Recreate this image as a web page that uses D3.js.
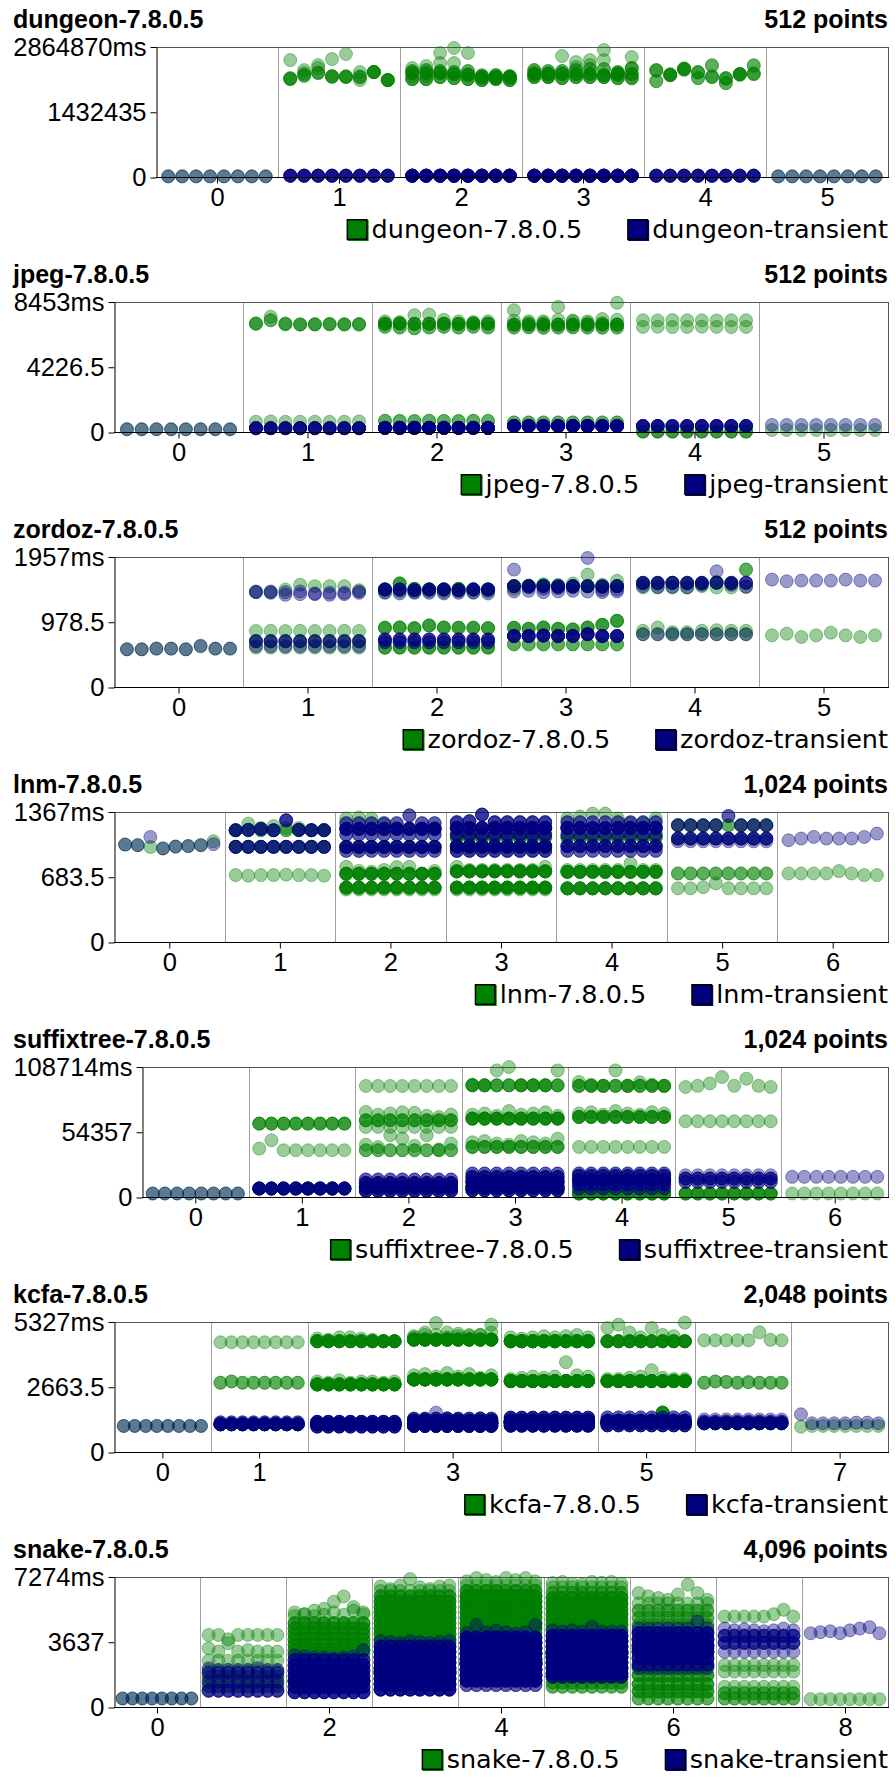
<!DOCTYPE html>
<html><head><meta charset="utf-8">
<script src="https://cdn.jsdelivr.net/npm/d3@7"></script>
<style>body{margin:0;background:#fff}svg{display:block}</style>
</head><body>
<script>
// ---- data ----
// each column: list of rows; row = [count, v0..v7] (one value per run slot) or [count, v] (same value in all 8 slots)
const benchNames = ["dungeon","jpeg","zordoz","lnm","suffixtree","kcfa","snake"];
const yMaxes = [2864870, 8453, 1957, 1367, 108714, 5327, 7274];
const pointTotals = [512, 512, 512, 1024, 1024, 2048, 4096];
const xTickLabels = [[0,1,2,3,4,5],[0,1,2,3,4,5],[0,1,2,3,4,5],[0,1,2,3,4,5,6],[0,1,2,3,4,5,6],[0,1,3,5,7],[0,2,4,6,8]];
const seriesSuffixes = ["7.8.0.5", "transient"];
const seriesColors = ["green", "navy"];

const dungeonOld = [
 [[1,25e3]],
 [[1,2578e3,2358e3,2468e3,2600e3,2711e3,2314e3,2314e3,2138e3],
  [1,2160e3,2226e3,2292e3,2226e3,2226e3,2138e3,2314e3,2138e3],
  [1,2160e3,2292e3,2402e3,2204e3,2204e3,2226e3,2314e3,2138e3],
  [2,2180e3,2250e3,2300e3,2220e3,2210e3,2200e3,2314e3,2138e3]],
 [[3,2292e3,2292e3,2292e3,2270e3,2248e3,2204e3,2204e3,2204e3],
  [3,2160e3,2160e3,2204e3,2182e3,2160e3,2138e3,2160e3,2138e3],
  [2,2336e3,2358e3,2336e3,2314e3,2336e3,2226e3,2248e3,2226e3],
  [1,2402e3,2446e3,2733e3,2843e3,2733e3,2248e3,2226e3,2204e3],
  [1,2226e3,2226e3,2512e3,2512e3,2270e3,2182e3,2182e3,2182e3]],
 [[3,2270e3,2270e3,2270e3,2270e3,2270e3,2248e3,2270e3,2270e3],
  [3,2204e3,2204e3,2182e3,2204e3,2204e3,2204e3,2182e3,2182e3],
  [2,2358e3,2336e3,2336e3,2358e3,2380e3,2380e3,2314e3,2402e3],
  [1,2314e3,2292e3,2666e3,2534e3,2578e3,2799e3,2292e3,2644e3],
  [1,2248e3,2226e3,2292e3,2424e3,2468e3,2578e3,2248e3,2402e3]],
 [[1,2358e3,2248e3,2380e3,2314e3,2468e3,2182e3,2270e3,2468e3],
  [1,2116e3,2248e3,2380e3,2182e3,2204e3,2072e3,2270e3,2270e3],
  [1,2358e3,2270e3,2380e3,2314e3,2204e3,2182e3,2270e3,2270e3],
  [1,2116e3,2248e3,2360e3,2182e3,2226e3,2072e3,2270e3,2290e3],
  [1,2340e3,2248e3,2400e3,2300e3,2450e3,2160e3,2250e3,2450e3]],
 [[1,25e3]]
];
const dungeonNew = [[[1,25e3]],[[5,40e3]],[[10,40e3]],[[10,40e3]],[[5,40e3]],[[1,25e3]]];

const jpegOld = [
 [[1,210]],
 [[2,7060,7270,7050,7000,7010,7030,7000,7020],
  [1,7040,7500,7000,7000,6990,7000,7010,6980],
  [1,700,720,690,700,700,690,700,720],
  [1,280]],
 [[4,7050,7060,7040,7050,7050,7040,7060,7050],
  [2,6850,6800,6750,6800,6850,6800,6850,6800],
  [1,7200,7150,7600,7640,7300,7200,7150,7200],
  [2,760,750,740,760,750,740,760,750],
  [1,300]],
 [[4,6990],
  [2,6800,6820,6790,6800,6810,6800,6790,6800],
  [1,7920,7100,7100,8140,7200,7100,7100,8400],
  [1,7250,7200,7200,7300,7250,7200,7350,7300],
  [2,650]],
 [[1,7270,7260,7280,7270,7270,7260,7270,7270],
  [1,6840,6850,6830,6840,6850,6840,6830,6840],
  [3,60]],
 [[1,163]]
];
const jpegNew = [[[1,210]],[[5,280]],[[10,300]],[[10,420]],[[5,420]],[[1,490]]];

const zordozOld = [
 [[1,573,573,583,583,573,615,583,583]],
 [[1,1430,1430,1470,1540,1520,1520,1520,1460],
  [1,847,850,847,850,847,847,850,847],
  [2,690],
  [1,598]],
 [[3,1470,1560,1480,1470,1470,1480,1470,1470],
  [1,1430,1440,1430,1440,1430,1440,1430,1440],
  [3,896,900,890,930,900,896,896,890],
  [3,598]],
 [[4,1520,1520,1530,1510,1520,1520,1510,1520],
  [1,1480,1530,1550,1540,1560,1693,1540,1600],
  [3,896,880,900,880,870,900,940,1000],
  [2,647]],
 [[2,1560,1560,1570,1560,1560,1580,1560,1768],
  [1,1500,1510,1500,1500,1520,1500,1500,1510],
  [1,850,900,830,830,850,860,850,850],
  [1,797]],
 [[1,782,807,757,782,822,782,757,782]]
];
const zordozNew = [
 [[1,573,573,583,583,573,627,583,583]],
 [[1,1440,1440,1430,1440,1410,1420,1420,1440],
  [1,1430,1420,1390,1400,1400,1390,1400,1420],
  [2,697],[1,620]],
 [[4,1470,1470,1460,1470,1470,1460,1470,1470],
  [1,1420,1410,1420,1420,1410,1420,1420,1410],
  [3,720],[2,680]],
 [[3,1520],[1,1768,1500,1480,1490,1500,1942,1460,1470],
  [1,1440,1450,1430,1440,1450,1440,1430,1440],
  [5,772,772,780,772,772,800,772,772]],
 [[3,1570],[1,1520,1500,1510,1500,1540,1743,1540,1510],[1,800]],
 [[1,1618,1593,1603,1603,1603,1618,1603,1603]]
];

const lnmOld = [
 [[1,1026,1020,1000,985,1005,1010,1020,1060]],
 [[1,706,700,706,706,710,706,706,700],
  [1,1176,1245,1200,1220,1200,1200,1180,1180],
  [2,1176],[2,1002]],
 [[1,1300,1310,1300,1240,1200,1200,1200,1200],
  [1,793,750,740,760,790,793,720,750],
  [5,720],[5,575],[1,555],[2,1000]],
 [[1,793,760,760,760,760,760,760,793],
  [6,745],[6,575],[1,555],[3,1100],[3,1000]],
 [[1,1300,1320,1350,1350,1300,1250,1250,1300],
  [1,760,760,760,760,760,828,760,760],
  [5,740],[5,567],[3,1100]],
 [[2,723],[1,567,567,580,619,567,567,567,567],[2,1228],[1,1089]],
 [[1,723,723,723,723,748,723,706,706]]
];
const lnmNew = [
 [[1,1026,1020,1106,985,1005,1010,1020,1030]],
 [[3,1176,1180,1190,1176,1280,1180,1176,1176],[3,1002]],
 [[5,1190],[2,1250,1250,1250,1250,1250,1332,1250,1250],[2,1130],[4,1002],[2,960]],
 [[6,1200],[3,1260,1270,1340,1260,1260,1260,1260,1260],[3,1130],[5,1010],[3,960]],
 [[5,1200],[2,1260],[2,1130],[4,1010],[2,960]],
 [[2,1228,1228,1228,1228,1325,1228,1228,1228],[3,1089],[1,1060]],
 [[1,1071,1089,1106,1089,1089,1089,1106,1141]]
];

const suffixtreeOld = [
 [[1,3330]],
 [[3,61560],[1,40760,47700,39380,39380,39380,39380,39380,39380],[2,7490]],
 [[1,92900],[3,64330],[1,71270,69000,70000,71000,70500,68000,67000,69000],[1,58790],
  [2,39380],[1,44000,42000,51860,49080,43000,51860,40000,45000],[5,8000]],
 [[1,94000,93450,105900,108700,93450,93450,93450,105900],[3,93450],[5,65720],
  [1,69000,70000,68000,72000,69000,70000,71000,68000],[3,42150],
  [1,46000,47000,45000,44000,47000,46000,45000,49000],[6,8000]],
 [[1,96220,94000,93000,105900,93000,96000,94000,93000],[3,93000],[4,67110],
  [1,70000,71000,69000,72000,70000,69000,71000,70000],[1,42150],[5,3330]],
 [[1,92060,93000,95000,100400,93000,99000,93000,92060],[1,63500],[4,3330]],
 [[1,3330]]
];
const suffixtreeNew = [
 [[1,3330]],
 [[6,7490]],
 [[5,8870],[4,12000],[4,5500],[2,15000]],
 [[6,13030],[4,9000],[4,17000],[2,19970],[4,6000]],
 [[5,14420],[3,11000],[3,18000],[2,20000],[2,7500]],
 [[3,15800],[2,13000],[1,18500]],
 [[1,17190]]
];

const kcfaOld = [
 [[1,1084]],
 [[1,4500],[2,2847,2900,2847,2847,2847,2847,2847,2847],[4,1152]],
 [[6,4541],[1,4650,4600,4700,4700,4650,4600,4550,4541],[8,2779],
  [1,2900,2850,2950,2850,2900,2900,2850,2900],[5,1152]],
 [[10,4609],[1,4700,4800,5286,4700,4750,4800,4800,5219],[1,4750,4900,4800,4900,4850,4750,4800,4900],
  [12,2982],[1,3150,3200,3100,3250,3100,3200,3050,3150],[10,1193]],
 [[10,4541],[1,4700,4650,4700,4750,4700,4750,4800,4700],[12,2914],
  [1,3000,3050,3100,3050,3100,3687,3150,3100],[10,1220]],
 [[6,4541],[1,5083,5219,4900,4700,5083,4800,4750,5300],[8,2914],
  [1,3000,3000,3050,3100,3362,3050,3000,3000],[5,1220,1220,1220,1220,1220,1627,1220,1220]],
 [[1,4580,4580,4580,4580,4580,4907,4600,4580],[2,2847,2900,2880,2847,2870,2847,2847,2847],[4,1193]],
 [[1,1050,1084,1084,1084,1084,1084,1084,1084]]
];
const kcfaNew = [
 [[1,1084]],
 [[5,1152],[2,1230]],
 [[12,1152],[5,1250],[4,1060]],
 [[15,1193],[8,1290],[1,1300,1350,1627,1400,1350,1300,1400,1300],[8,1090],[3,1380]],
 [[15,1220],[8,1300],[8,1100],[4,1420]],
 [[10,1220],[5,1300],[4,1110],[2,1430]],
 [[4,1193],[2,1260],[1,1350]],
 [[1,1559,1193,1193,1193,1193,1220,1220,1193]]
];

const snakeOld = [
 [[1,504]],
 [[1,4047,4047,3800,4047,4047,4047,4047,4047],[1,3300,3115,3581,3115,3200,3115,3115,3115],
  [1,2611],[1,2089],[2,1700],[2,1200]],
 [[1,5300,5200,5400,5500,5900,6192,5600,5300],[1,5100,5200,5100,5166,5300,5166,5400,5200],
  [3,4700],[3,4400],[3,4100],[3,3800],[3,3500],[3,3200],[2,3000],[6,1500]],
 [[1,6750,6600,6800,7162,6700,6600,6750,6800],[1,6500],[3,6200],[4,5900],[4,5600],[4,5300],
  [4,5000],[4,4700],[4,4400],[4,4100],[4,3800],[2,3580],[10,2000]],
 [[1,7031,7218,7100,7000,7218,7100,7218,7031],[1,6800],[3,6500],[5,6200],[5,5900],[5,5600],
  [5,5300],[5,5000],[5,4700],[5,4400],[3,4140],[15,2500]],
 [[1,6940,7000,6900,6850,7000,6950,7000,6900],[1,6700],[2,6400],[4,6100],[4,5800],[4,5500],
  [4,5200],[4,4900],[4,4600],[3,4330],[3,1716],[2,1400],[2,1156],[12,3000]],
 [[1,6378,6200,6100,6000,6300,6845,6378,6000],[1,5800],[2,5400],[2,5000],[2,4600],[1,4300],
  [3,2275],[3,1800],[3,1300],[3,900],[2,500],[4,3300]],
 [[1,5073,5073,5073,5073,5073,5200,5446,5073],[1,2370],[1,2000],[1,1156],[2,800],[2,500]],
 [[1,466]]
];
const snakeNew = [
 [[1,504]],
 [[1,2182,2089,2089,2089,2089,2200,2089,2089],[2,1940],[2,1436],[3,933]],
 [[1,2900,2850,2800,2800,2750,2800,2850,3200],[3,2650],[4,2350],[4,2050],[4,1750],[4,1450],[4,1150],[4,850]],
 [[1,3700,3650,3600,3700,3650,3600,3650,3700],[4,3400],[6,3100],[6,2800],[6,2500],[6,2200],
  [6,1900],[6,1600],[6,1300],[5,1000]],
 [[1,4140,4600,4200,4300,4200,4100,4200,4600],[5,3900],[8,3600],[8,3300],[8,3000],[8,2700],
  [8,2400],[8,2100],[8,1800],[6,1500],[2,1250]],
 [[1,4300,4234,4300,4234,4500,4234,4234,4234],[5,4000],[7,3700],[7,3400],[7,3100],[7,2800],
  [7,2500],[7,2200],[5,1900],[3,1716]],
 [[1,4420,4420,4420,4420,4420,4420,4800,4420],[4,4150],[5,3800],[5,3450],[5,3100],[4,2750],[3,2400],[1,2182]],
 [[1,4400,4300,4350,4300,4250,4300,4400,4300],[3,4000],[3,3600],[1,3100]],
 [[1,4140,4200,4250,4140,4300,4400,4476,4140]]
];

const oldSeries = [dungeonOld, jpegOld, zordozOld, lnmOld, suffixtreeOld, kcfaOld, snakeOld];
const newSeries = [dungeonNew, jpegNew, zordozNew, lnmNew, suffixtreeNew, kcfaNew, snakeNew];

// ---- drawing ----
const W = 895, H = 1782, PANEL_H = 255;
const TOP = 47, BOTTOM = 177.5, RIGHT = 888;
const axisFont = "'Liberation Sans', Arial, Helvetica, sans-serif";
const legendFont = "'DejaVu Sans', sans-serif";
const AXIS_FS = 25.5, TITLE_FS = 25, LEGEND_FS = 25.5;

const svg = d3.select("body").append("svg").attr("width", W).attr("height", H);

function expand(cols) {
  const pts = [];
  cols.forEach((rows, col) => {
    rows.forEach(r => {
      const vals = r.length === 2 ? d3.range(8).map(() => r[1]) : r.slice(1);
      for (let c = 0; c < r[0]; c++) vals.forEach((v, s) => pts.push({col, s, v}));
    });
  });
  return pts;
}

benchNames.forEach((name, i) => {
  const g = svg.append("g").attr("transform", `translate(0,${i * PANEL_H})`);
  const ymax = yMaxes[i];
  const nCols = oldSeries[i].length;

  const probe = g.append("text").attr("font-family", axisFont).attr("font-size", AXIS_FS).text(ymax + "ms");
  const lw = probe.node().getComputedTextLength();
  probe.remove();
  const left = Math.round(13 + lw + 10);

  const x = d3.scaleBand().domain(d3.range(nCols)).range([left, RIGHT]);
  const slot = d3.scalePoint().domain(d3.range(8)).range([0, x.bandwidth()]).padding(0.88);
  const y = d3.scaleLinear().domain([0, ymax]).range([BOTTOM, TOP]);
  const xc = d3.scaleLinear().domain([0, nCols - 1]).range([x(0) + x.bandwidth() / 2, x(nCols - 1) + x.bandwidth() / 2]);

  // column separators
  g.selectAll("line.sep").data(d3.range(1, nCols)).join("line").attr("class", "sep")
    .attr("x1", k => Math.round(x(k)) + 0.5).attr("x2", k => Math.round(x(k)) + 0.5)
    .attr("y1", TOP).attr("y2", BOTTOM).attr("stroke", "#a0a0a0").attr("stroke-width", 1);

  // frame top/right
  g.append("line").attr("x1", left).attr("x2", RIGHT + 0.5).attr("y1", TOP + 0.5).attr("y2", TOP + 0.5)
    .attr("stroke", "#555").attr("stroke-width", 1);
  g.append("line").attr("x1", RIGHT + 0.5).attr("x2", RIGHT + 0.5).attr("y1", TOP).attr("y2", BOTTOM)
    .attr("stroke", "#555").attr("stroke-width", 1);

  // points
  [oldSeries[i], newSeries[i]].forEach((cols, si) => {
    const col = seriesColors[si];
    g.append("g").selectAll("circle").data(expand(cols)).join("circle")
      .attr("cx", d => x(d.col) + slot(d.s))
      .attr("cy", d => y(d.v))
      .attr("r", 6.5)
      .attr("fill", col).attr("fill-opacity", 0.4)
      .attr("stroke", col).attr("stroke-opacity", 0.4).attr("stroke-width", 1);
  });

  // y axis
  const yAxis = d3.axisLeft(y).tickValues([0, ymax / 2, ymax])
    .tickFormat(d => d === ymax ? d + "ms" : String(d))
    .tickSize(6).tickSizeOuter(0).tickPadding(4);
  const ya = g.append("g").attr("transform", `translate(${left + 0.5},0)`).call(yAxis);
  ya.attr("font-size", AXIS_FS).attr("font-family", axisFont);
  ya.selectAll("text").attr("fill", "#000");
  ya.selectAll("line,path").attr("stroke", "#000");

  // x axis
  g.append("line").attr("x1", left).attr("x2", RIGHT + 1).attr("y1", BOTTOM).attr("y2", BOTTOM)
    .attr("stroke", "#000").attr("stroke-width", 1);
  const xAxis = d3.axisBottom(xc).tickValues(xTickLabels[i]).tickFormat(d => String(d))
    .tickSize(6).tickSizeOuter(0).tickPadding(4);
  const xa = g.append("g").attr("transform", `translate(0,${BOTTOM})`).call(xAxis);
  xa.select(".domain").remove();
  xa.attr("font-size", AXIS_FS).attr("font-family", axisFont);
  xa.selectAll("text").attr("fill", "#000");
  xa.selectAll("line").attr("stroke", "#000");

  // titles
  g.append("text").attr("x", 13).attr("y", 28).attr("font-family", axisFont).attr("font-weight", "bold")
    .attr("font-size", TITLE_FS).attr("fill", "#000").text(name + "-" + seriesSuffixes[0]);
  g.append("text").attr("x", RIGHT).attr("y", 28).attr("text-anchor", "end").attr("font-family", axisFont)
    .attr("font-weight", "bold").attr("font-size", TITLE_FS).attr("fill", "#000")
    .text(d3.format(",")(pointTotals[i]) + " points");

  // legend (right aligned)
  let cursor = RIGHT;
  for (let si = 1; si >= 0; si--) {
    const t = g.append("text").attr("y", 238).attr("font-family", legendFont).attr("font-size", LEGEND_FS)
      .attr("fill", "#000").text(name + "-" + seriesSuffixes[si]);
    const tw = t.node().getComputedTextLength();
    t.attr("x", cursor - tw);
    const sx = cursor - tw - 3 - 22;
    g.append("rect").attr("x", sx + 1).attr("y", 220).attr("width", 21).attr("height", 21).attr("fill", seriesColors[si]);
    g.append("rect").attr("x", sx + 0.75).attr("y", 219.75).attr("width", 19.5).attr("height", 19.5)
      .attr("fill", seriesColors[si]).attr("stroke", "#000").attr("stroke-width", 1.5);
    cursor = sx - 45;
  }
});
</script>
</body></html>
